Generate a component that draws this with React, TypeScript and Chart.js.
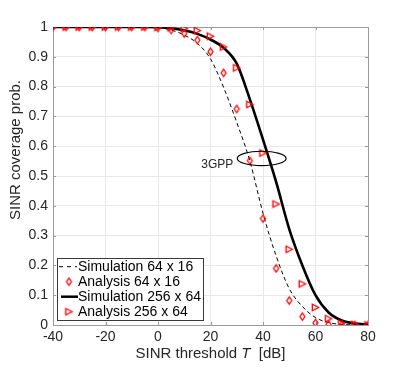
import React, { useEffect, useRef } from "react";
import { Chart, registerables } from "chart.js";

Chart.register(...registerables);

// ---- data ----
const simX = [-40, -35, -30, -25, -20, -15, -10, -5, 0, 5, 10, 15, 20, 25, 30, 35, 40, 45, 50, 55, 60, 65, 70, 75, 80];
const sim64x16 = [1, 1, 1, 1, 1, 1, 1, 1, 0.998, 0.99, 0.973, 0.945, 0.893, 0.797, 0.68, 0.55, 0.375, 0.232, 0.122, 0.062, 0.025, 0.008, 0.002, 0.0005, 0];
const ana64x16 = [1, 1, 1, 1, 1, 1, 1, 1, 0.997, 0.99, 0.978, 0.956, 0.917, 0.846, 0.725, 0.551, 0.357, 0.19, 0.082, 0.028, 0.007, 0.002, 0, 0, 0];
const sim256x64 = [1, 1, 1, 1, 1, 1, 1, 1, 0.999, 0.996, 0.989, 0.977, 0.958, 0.93, 0.877, 0.757, 0.622, 0.48, 0.322, 0.2, 0.1, 0.042, 0.015, 0.005, 0.002];
const ana256x64 = [1, 1, 1, 1, 1, 1, 1, 1, 0.999, 0.998, 0.995, 0.988, 0.969, 0.933, 0.863, 0.74, 0.577, 0.406, 0.254, 0.138, 0.059, 0.021, 0.006, 0.002, 0];
const legendLabels = ["Simulation 64 x 16", "Analysis 64 x 16", "Simulation 256 x 64", "Analysis 256 x 64"];
const annotationText = "3GPP";
const ellipseCenter = { x: 39.5, y: 0.559 };
const ellipseRadius = { x: 9.3, y: 0.024 };

const FONT = "'Liberation Sans', Arial, Helvetica, sans-serif";
const RED = "#ff0000";

function makeDiamond(): HTMLCanvasElement {
  const c = document.createElement("canvas");
  c.width = 9;
  c.height = 11;
  const g = c.getContext("2d")!;
  g.strokeStyle = RED;
  g.lineWidth = 1.3;
  g.beginPath();
  g.moveTo(4.5, 1.8);
  g.lineTo(7.0, 5.5);
  g.lineTo(4.5, 9.2);
  g.lineTo(2.0, 5.5);
  g.closePath();
  g.stroke();
  return c;
}

function makeTriangle(): HTMLCanvasElement {
  const c = document.createElement("canvas");
  c.width = 11;
  c.height = 11;
  const g = c.getContext("2d")!;
  g.strokeStyle = RED;
  g.lineWidth = 1.3;
  g.beginPath();
  g.moveTo(2.3, 2.2);
  g.lineTo(2.3, 8.8);
  g.lineTo(8.6, 5.5);
  g.closePath();
  g.stroke();
  return c;
}

const pts = (ys: number[]) => simX.map((x, i) => ({ x, y: ys[i] }));

export default function App() {
  const ref = useRef<HTMLCanvasElement | null>(null);

  useEffect(() => {
    const diamond = makeDiamond();
    const tri = makeTriangle();

    const decor = {
      id: "decor",
      beforeDatasetsDraw(chart: any) {
        const { ctx, chartArea: a } = chart;
        ctx.save();
        ctx.strokeStyle = "#9a9a9a";
        ctx.lineWidth = 1;
        const xs = chart.scales.x;
        const ys = chart.scales.y;
        for (let v = -40; v <= 80; v += 20) {
          const px = Math.round(xs.getPixelForValue(v)) + 0.5;
          ctx.beginPath();
          ctx.moveTo(px, a.bottom);
          ctx.lineTo(px, a.bottom - 3);
          ctx.moveTo(px, a.top);
          ctx.lineTo(px, a.top + 3);
          ctx.stroke();
        }
        for (let i = 0; i <= 10; i++) {
          const py = Math.round(ys.getPixelForValue(i / 10)) + 0.5;
          ctx.beginPath();
          ctx.moveTo(a.left, py);
          ctx.lineTo(a.left + 3, py);
          ctx.moveTo(a.right, py);
          ctx.lineTo(a.right - 3, py);
          ctx.stroke();
        }
        ctx.strokeRect(Math.round(a.left) + 0.5, Math.round(a.top) + 0.5, Math.round(a.right - a.left), Math.round(a.bottom - a.top));
        ctx.restore();
      },
      afterDraw(chart: any) {
        const { ctx, chartArea: a } = chart;
        const xs = chart.scales.x;
        const ys = chart.scales.y;
        ctx.save();
        // ellipse annotation
        const cx = xs.getPixelForValue(ellipseCenter.x);
        const cy = ys.getPixelForValue(ellipseCenter.y);
        const rx = xs.getPixelForValue(ellipseCenter.x + ellipseRadius.x) - cx;
        const ry = cy - ys.getPixelForValue(ellipseCenter.y + ellipseRadius.y);
        ctx.strokeStyle = "#000";
        ctx.lineWidth = 1.2;
        ctx.beginPath();
        ctx.ellipse(cx, cy, rx, ry, 0, 0, Math.PI * 2);
        ctx.stroke();
        ctx.fillStyle = "#262626";
        ctx.font = `12px ${FONT}`;
        ctx.textAlign = "right";
        ctx.textBaseline = "middle";
        ctx.fillText(annotationText, cx - rx - 4, cy + 6);

        // legend
        const lx = 57, ly = 258, lw = 146, lh = 62;
        ctx.fillStyle = "#fff";
        ctx.fillRect(lx, ly, lw, lh);
        ctx.strokeStyle = "#3a3a3a";
        ctx.lineWidth = 1;
        ctx.strokeRect(lx + 0.5, ly + 0.5, lw, lh);
        const rows = [266.7, 281.7, 296.7, 311.7];
        ctx.font = `14px ${FONT}`;
        ctx.textAlign = "left";
        ctx.textBaseline = "middle";
        rows.forEach((ry2, i) => {
          ctx.fillStyle = "#000";
          ctx.fillText(legendLabels[i], 78, ry2 + 0.5);
          if (i === 0) {
            ctx.strokeStyle = "#000";
            ctx.lineWidth = 1;
            ctx.setLineDash([4, 4]);
            ctx.beginPath();
            ctx.moveTo(59, ry2);
            ctx.lineTo(77, ry2);
            ctx.stroke();
            ctx.setLineDash([]);
          } else if (i === 2) {
            ctx.strokeStyle = "#000";
            ctx.lineWidth = 2.5;
            ctx.beginPath();
            ctx.moveTo(61, ry2);
            ctx.lineTo(78, ry2);
            ctx.stroke();
          } else {
            const img = i === 1 ? diamond : tri;
            ctx.drawImage(img, 69 - img.width / 2, ry2 - img.height / 2);
          }
        });

        // axis titles
        ctx.fillStyle = "#262626";
        ctx.font = `15px ${FONT}`;
        const p1 = "SINR threshold ";
        const p2 = "T";
        const p3 = "  [dB]";
        const w1 = ctx.measureText(p1).width;
        const w3 = ctx.measureText(p3).width;
        ctx.font = `italic 15px ${FONT}`;
        const w2 = ctx.measureText(p2).width;
        const total = w1 + w2 + w3;
        let sx = (a.left + a.right) / 2 - total / 2;
        ctx.textAlign = "left";
        ctx.textBaseline = "middle";
        ctx.font = `15px ${FONT}`;
        ctx.fillText(p1, sx, 354);
        sx += w1;
        ctx.font = `italic 15px ${FONT}`;
        ctx.fillText(p2, sx, 354);
        sx += w2;
        ctx.font = `15px ${FONT}`;
        ctx.fillText(p3, sx, 354);

        ctx.translate(16, 150);
        ctx.rotate(-Math.PI / 2);
        ctx.textAlign = "center";
        ctx.fillText("SINR coverage prob.", 0, 0);
        ctx.restore();
      },
    };

    const chart = new Chart(ref.current!, {
      type: "line",
      data: {
        datasets: [
          {
            label: legendLabels[1],
            data: pts(ana64x16),
            showLine: false,
            pointStyle: diamond,
            pointRadius: 4,
            borderColor: RED,
          },
          {
            label: legendLabels[3],
            data: pts(ana256x64),
            showLine: false,
            pointStyle: tri,
            pointRadius: 4,
            borderColor: RED,
          },
          {
            label: legendLabels[0],
            data: pts(sim64x16),
            borderColor: "#000",
            borderWidth: 1,
            borderDash: [4, 3],
            pointRadius: 0,
            cubicInterpolationMode: "monotone",
            fill: false,
          },
          {
            label: legendLabels[2],
            data: pts(sim256x64),
            borderColor: "#000",
            borderWidth: 2.6,
            pointRadius: 0,
            cubicInterpolationMode: "monotone",
            fill: false,
          },
        ],
      } as any,
      options: {
        animation: false,
        responsive: false,
        layout: { padding: { top: 27, right: 39, left: 0, bottom: 0 } },
        plugins: { legend: { display: false }, tooltip: { enabled: false } },
        scales: {
          x: {
            type: "linear",
            min: -40,
            max: 80,
            ticks: { stepSize: 20, font: { size: 14, family: FONT }, color: "#262626", padding: 4, maxRotation: 0 },
            grid: { color: "#e8e8e8", drawTicks: false },
            border: { display: false },
            afterFit: (s: any) => {
              s.height = 42;
            },
          },
          y: {
            min: 0,
            max: 1,
            ticks: {
              stepSize: 0.1,
              font: { size: 14, family: FONT },
              color: "#262626",
              padding: 5,
              callback: (v: any) => String(Math.round(Number(v) * 10) / 10),
            },
            grid: { color: "#e8e8e8", drawTicks: false },
            border: { display: false },
            afterFit: (s: any) => {
              s.width = 53;
            },
          },
        },
      } as any,
      plugins: [decor],
    });
    return () => chart.destroy();
  }, []);

  return (
    <div style={{ position: "absolute", left: 0, top: 0, width: 407, height: 367, background: "#fff" }}>
      <canvas ref={ref} width={407} height={367} style={{ width: 407, height: 367 }} />
    </div>
  );
}
